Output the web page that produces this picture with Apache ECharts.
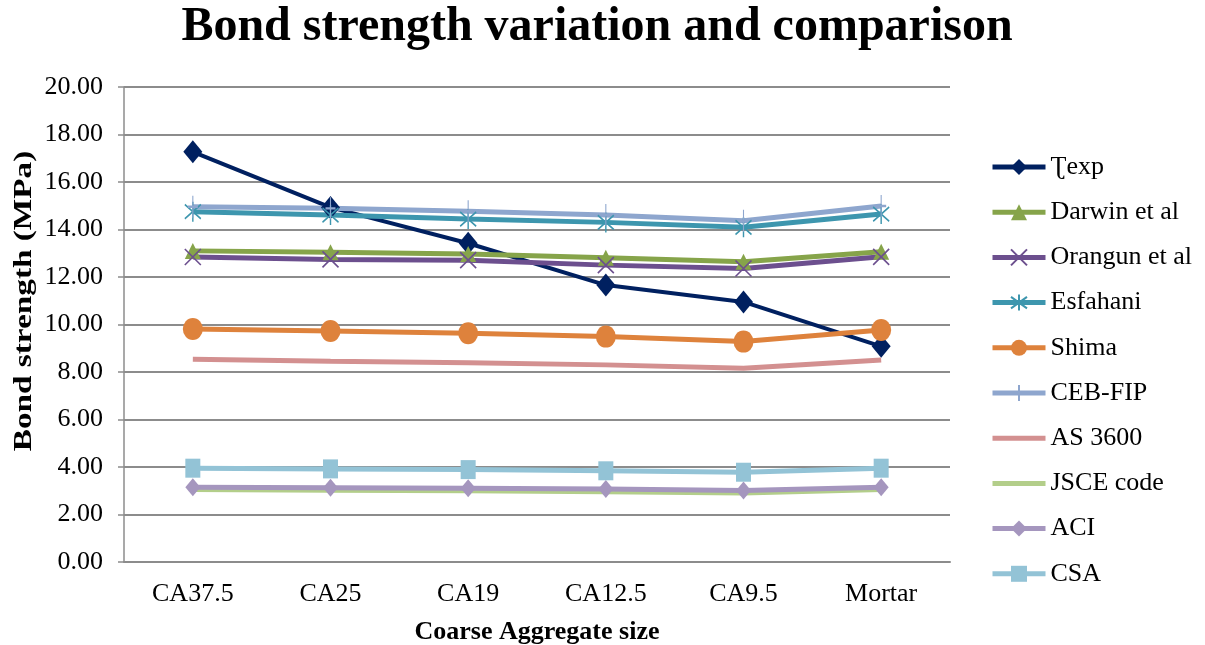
<!DOCTYPE html>
<html>
<head>
<meta charset="utf-8">
<script src="https://cdn.jsdelivr.net/npm/echarts@6/dist/echarts.min.js"></script>
<style>
  html, body { margin: 0; padding: 0; background: #ffffff; }
  #chart { width: 1205px; height: 645px; }
</style>
</head>
<body>
<div id="chart"></div>
<script>
// Coarse aggregate sizes on the category axis
const categories = ['CA37.5', 'CA25', 'CA19', 'CA12.5', 'CA9.5', 'Mortar'];

// Bond strength (MPa) per model / experiment
const tauExp   = [17.27, 14.93, 13.42, 11.66, 10.95, 9.08];
const darwin   = [13.10, 13.04, 12.97, 12.81, 12.64, 13.06];
const orangun  = [12.84, 12.74, 12.71, 12.50, 12.36, 12.85];
const esfahani = [14.75, 14.61, 14.44, 14.30, 14.09, 14.65];
const shima    = [9.81, 9.73, 9.63, 9.49, 9.28, 9.77];
const cebFip   = [14.96, 14.89, 14.77, 14.61, 14.37, 14.99];
const as3600   = [8.54, 8.45, 8.39, 8.30, 8.16, 8.51];
const jsce     = [3.05, 3.02, 3.00, 2.96, 2.90, 3.05];
const aci      = [3.15, 3.13, 3.11, 3.07, 3.01, 3.15];
const csa      = [3.95, 3.92, 3.89, 3.84, 3.78, 3.95];

const FONT = '"Liberation Serif", "Times New Roman", "DejaVu Serif", serif';

// Stroke-only marker shapes
const SYM_X = 'path://M0,0L10,10M10,0L0,10';
const SYM_STAR = 'path://M0,2L10,12M10,2L0,12M5,0L5,14';
const SYM_PLUS = 'path://M5,0L5,20M0,10L10,10';

function lineSeries(name, data, color, symbol, symbolSize, opts) {
  const s = {
    name: name,
    type: 'line',
    data: data,
    symbol: symbol,
    symbolSize: symbolSize,
    showSymbol: symbol !== 'none',
    lineStyle: { color: color, width: 5 },
    itemStyle: { color: color, borderColor: color, borderWidth: 0 },
    emphasis: { disabled: true },
    animation: false
  };
  return Object.assign(s, opts || {});
}

const series = [
  lineSeries('Ʈexp', tauExp, '#002060', 'diamond', [19, 23], { lineStyle: { color: '#002060', width: 4 } }),
  lineSeries('Darwin et al', darwin, '#86A44A', 'triangle', [16, 16]),
  lineSeries('Orangun et al', orangun, '#6C4F8E', SYM_X, [16, 16], { itemStyle: { color: 'none', borderColor: '#6C4F8E', borderWidth: 1.6 } }),
  lineSeries('Esfahani', esfahani, '#3D96AE', SYM_STAR, [16, 20], { itemStyle: { color: 'none', borderColor: '#3D96AE', borderWidth: 1.6 } }),
  lineSeries('Shima', shima, '#DE823C', 'circle', [20, 22]),
  lineSeries('CEB-FIP', cebFip, '#8EA6CE', SYM_PLUS, [10, 22], { itemStyle: { color: 'none', borderColor: '#8EA6CE', borderWidth: 1.6 } }),
  lineSeries('AS 3600', as3600, '#D39090', 'circle', 0, { showSymbol: false }),
  lineSeries('JSCE code', jsce, '#B3CE8A', 'circle', 0, { showSymbol: false }),
  lineSeries('ACI', aci, '#A596BE', 'diamond', [15, 18]),
  lineSeries('CSA', csa, '#93C3D6', 'rect', [15, 19])
];

// Plain-line legend entries carry no marker
const legendData = series.map(s => (
  s.showSymbol === false
    ? { name: s.name, itemStyle: { opacity: 0 } }
    : { name: s.name }
));

const chart = echarts.init(document.getElementById('chart'), null, { renderer: 'canvas' });

chart.setOption({
  backgroundColor: '#ffffff',
  animation: false,
  title: {
    text: 'Bond strength variation and comparison',
    left: 597,
    textAlign: 'center',
    top: 4,
    padding: 0,
    textStyle: { fontFamily: FONT, fontSize: 48, fontWeight: 'bold', color: '#000' }
  },
  grid: { left: 124, right: 255, top: 87, bottom: 83, containLabel: false, outerBoundsMode: 'none' },
  legend: {
    orient: 'vertical',
    left: 990,
    top: 153,
    padding: 0,
    itemWidth: 53,
    itemHeight: 20,
    itemGap: 17.2,
    lineStyle: { width: 5 },
    textStyle: { fontFamily: FONT, fontSize: 26, color: '#000', lineHeight: 28 },
    data: legendData
  },
  // Vertical axis title, drawn wide along its reading direction
  graphic: [{
    type: 'text',
    x: 25,
    y: 301,
    rotation: Math.PI / 2,
    scaleX: 1.33,
    silent: true,
    style: {
      text: 'Bond strength (MPa)',
      font: 'bold 25px ' + FONT,
      fill: '#000',
      align: 'center',
      verticalAlign: 'middle'
    }
  }],
  xAxis: {
    type: 'category',
    data: categories,
    boundaryGap: true,
    name: 'Coarse Aggregate size',
    nameLocation: 'middle',
    nameGap: 57,
    nameTextStyle: { fontFamily: FONT, fontSize: 26, fontWeight: 'bold', color: '#000' },
    axisLine: { lineStyle: { color: '#8c8c8c', width: 2 } },
    axisTick: { show: false },
    axisLabel: { fontFamily: FONT, fontSize: 26, color: '#000', margin: 19 }
  },
  yAxis: {
    type: 'value',
    min: 0,
    max: 20,
    interval: 2,
    axisLine: { show: true, lineStyle: { color: '#8c8c8c', width: 1.5 } },
    axisTick: { show: true, inside: false, length: 6, lineStyle: { color: '#8c8c8c', width: 1.5 } },
    axisLabel: {
      fontFamily: FONT, fontSize: 26, color: '#000', margin: 21,
      formatter: v => v.toFixed(2)
    },
    splitLine: { show: true, lineStyle: { color: '#8c8c8c', width: 2 } }
  },
  series: series
});
</script>
</body>
</html>
